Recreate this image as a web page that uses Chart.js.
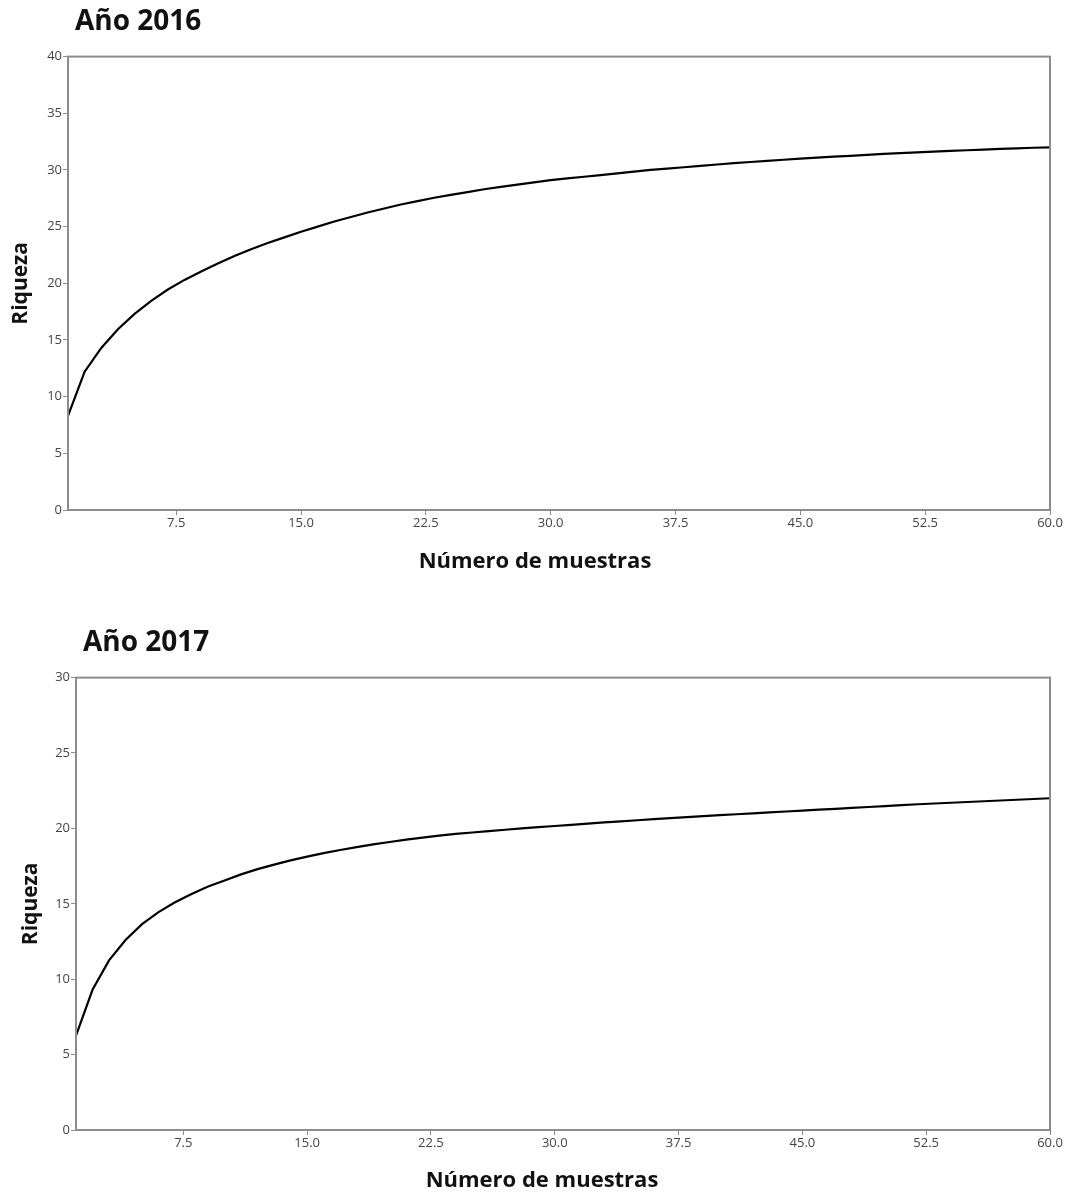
<!DOCTYPE html>
<html lang="es">
<head>
<meta charset="utf-8">
<title>Riqueza por número de muestras</title>
<script src="https://cdn.jsdelivr.net/npm/chart.js@4.4.1/dist/chart.umd.min.js"></script>
<style>
  html, body { margin: 0; padding: 0; background: #ffffff; }
  #wrap { position: relative; width: 1072px; height: 1195px; }
  canvas { display: block; position: absolute; left: 0; }
  #c2016 { top: 0; }
  #c2017 { top: 600px; }
</style>
</head>
<body>
<div id="wrap">
  <canvas id="c2016" width="1072" height="600"></canvas>
  <canvas id="c2017" width="1072" height="595"></canvas>
</div>
<script>
// Sample counts (x) shared by both curves
const muestras = [
  1, 2, 3, 4, 5, 6, 7, 8, 9, 10,
  11, 12, 13, 14, 15, 16, 17, 18, 19, 20,
  21, 22, 23, 24, 25, 26, 27, 28, 29, 30,
  31, 32, 33, 34, 35, 36, 37, 38, 39, 40,
  41, 42, 43, 44, 45, 46, 47, 48, 49, 50,
  51, 52, 53, 54, 55, 56, 57, 58, 59, 60
];

// Species richness accumulation, 2016
const riqueza2016 = [
  8.3, 12.2, 14.3, 15.95, 17.3, 18.45, 19.45, 20.3, 21.05, 21.75,
  22.4, 23.0, 23.55, 24.05, 24.55, 25.0, 25.45, 25.85, 26.25, 26.6,
  26.95, 27.25, 27.55, 27.8, 28.05, 28.3, 28.5, 28.7, 28.9, 29.1,
  29.25, 29.4, 29.55, 29.7, 29.85, 30.0, 30.12, 30.24, 30.36, 30.48,
  30.6, 30.7, 30.8, 30.9, 31.0, 31.09, 31.17, 31.25, 31.33, 31.41,
  31.48, 31.55, 31.62, 31.68, 31.74, 31.8, 31.86, 31.91, 31.96, 32.0
];

// Species richness accumulation, 2017
const riqueza2017 = [
  6.25, 9.3, 11.25, 12.6, 13.65, 14.45, 15.1, 15.65, 16.15, 16.55,
  16.95, 17.3, 17.6, 17.88, 18.13, 18.36, 18.57, 18.76, 18.94, 19.1,
  19.25, 19.39, 19.52, 19.64, 19.73, 19.82, 19.91, 20.0, 20.08, 20.16,
  20.24, 20.32, 20.4, 20.47, 20.54, 20.61, 20.68, 20.75, 20.82, 20.88,
  20.94, 21.0, 21.06, 21.12, 21.18, 21.24, 21.3, 21.36, 21.42, 21.48,
  21.54, 21.6, 21.65, 21.7, 21.75, 21.8, 21.85, 21.9, 21.95, 22.0
];

// Axis tick positions
const ticksX = [7.5, 15, 22.5, 30, 37.5, 45, 52.5, 60];
const ticksY2016 = [0, 5, 10, 15, 20, 25, 30, 35, 40];
const ticksY2017 = [0, 5, 10, 15, 20, 25, 30];

const titulos = ['Año 2016', 'Año 2017'];
const tituloX = 'Número de muestras';
const tituloY = 'Riqueza';

const AXIS_GRAY = '#8c8c8c';
const LABEL_GRAY = '#444444';
const TEXT_DARK = '#111111';
const FONT = "'Open Sans', 'DejaVu Sans', sans-serif";

// Full rectangular frame around the plotting area
const frame = {
  id: 'frame',
  afterDatasetsDraw(chart) {
    const { ctx, chartArea: a } = chart;
    ctx.save();
    ctx.strokeStyle = AXIS_GRAY;
    ctx.lineWidth = 2;
    ctx.strokeRect(a.left, a.top, a.right - a.left, a.bottom - a.top);
    ctx.restore();
  }
};

// Nudges the chart title right of the plot's left edge
const titleIndent = {
  id: 'titleIndent',
  afterLayout(chart, args, opts) {
    if (chart.titleBlock) {
      chart.titleBlock.left += opts.dx || 0;
      chart.titleBlock.right += opts.dx || 0;
    }
  }
};

// Horizontal axis caption, set slightly left of the plot centre
const xCaption = {
  id: 'xCaption',
  afterDraw(chart, args, opts) {
    const { ctx, chartArea: a } = chart;
    ctx.save();
    ctx.fillStyle = TEXT_DARK;
    ctx.font = 'bold 22px ' + FONT;
    ctx.textAlign = 'center';
    ctx.textBaseline = 'middle';
    ctx.fillText(opts.text, (a.left + a.right) / 2 + opts.dx, a.bottom + opts.dy);
    ctx.restore();
  }
};

function makeChart(canvasId, cfg) {
  const points = muestras.map((m, i) => ({ x: m, y: cfg.values[i] }));
  return new Chart(document.getElementById(canvasId), {
    type: 'line',
    data: {
      datasets: [{
        data: points,
        borderColor: '#000000',
        borderWidth: 2.2,
        pointRadius: 0,
        tension: 0,
        fill: false
      }]
    },
    options: {
      responsive: false,
      animation: false,
      devicePixelRatio: 1,
      layout: { padding: { left: 0, right: 22, top: 0, bottom: 0 } },
      plugins: {
        legend: { display: false },
        tooltip: { enabled: false },
        title: {
          display: true,
          text: cfg.title,
          align: 'start',
          fullSize: false,
          color: TEXT_DARK,
          font: { family: FONT, size: 28, weight: 'bold' },
          padding: { top: cfg.titleTop, bottom: cfg.titleBottom }
        },
        titleIndent: { dx: cfg.titleDx },
        xCaption: { text: tituloX, dx: cfg.xCaptionDx, dy: cfg.xCaptionDy }
      },
      scales: {
        x: {
          type: 'linear',
          min: 1,
          max: 60,
          afterBuildTicks(scale) {
            scale.ticks = ticksX.map(v => ({ value: v }));
          },
          afterFit(scale) { scale.height = cfg.xHeight; },
          ticks: {
            color: LABEL_GRAY,
            font: { family: FONT, size: 13 },
            padding: 0,
            maxRotation: 0,
            autoSkip: false,
            callback: v => Number(v).toFixed(1)
          },
          grid: {
            display: true,
            drawOnChartArea: false,
            drawTicks: true,
            tickLength: 5,
            color: AXIS_GRAY,
            lineWidth: 1
          },
          border: { display: true, color: AXIS_GRAY, width: 2 }
        },
        y: {
          type: 'linear',
          min: cfg.ticksY[0],
          max: cfg.ticksY[cfg.ticksY.length - 1],
          afterBuildTicks(scale) {
            scale.ticks = cfg.ticksY.map(v => ({ value: v }));
          },
          afterFit(scale) { scale.width = cfg.yWidth; },
          ticks: {
            color: LABEL_GRAY,
            font: { family: FONT, size: 13 },
            padding: 1
          },
          grid: {
            display: true,
            drawOnChartArea: false,
            drawTicks: true,
            tickLength: 5,
            color: AXIS_GRAY,
            lineWidth: 1
          },
          border: { display: true, color: AXIS_GRAY, width: 2 },
          title: {
            display: true,
            text: tituloY,
            color: TEXT_DARK,
            font: { family: FONT, size: 21, weight: 'bold' },
            padding: { top: cfg.yTitleLeft, bottom: 0 }
          }
        }
      }
    },
    plugins: [frame, titleIndent, xCaption]
  });
}

makeChart('c2016', {
  title: titulos[0],
  values: riqueza2016,
  ticksY: ticksY2016,
  titleTop: 5,
  titleBottom: 18,
  titleDx: 7,
  xHeight: 90,
  xCaptionDx: -24,
  xCaptionDy: 52,
  yWidth: 68,
  yTitleLeft: 8
});

makeChart('c2017', {
  title: titulos[1],
  values: riqueza2017,
  ticksY: ticksY2017,
  titleTop: 26,
  titleBottom: 18,
  titleDx: 7,
  xHeight: 65,
  xCaptionDx: -21,
  xCaptionDy: 51,
  yWidth: 76,
  yTitleLeft: 18
});
</script>
</body>
</html>
